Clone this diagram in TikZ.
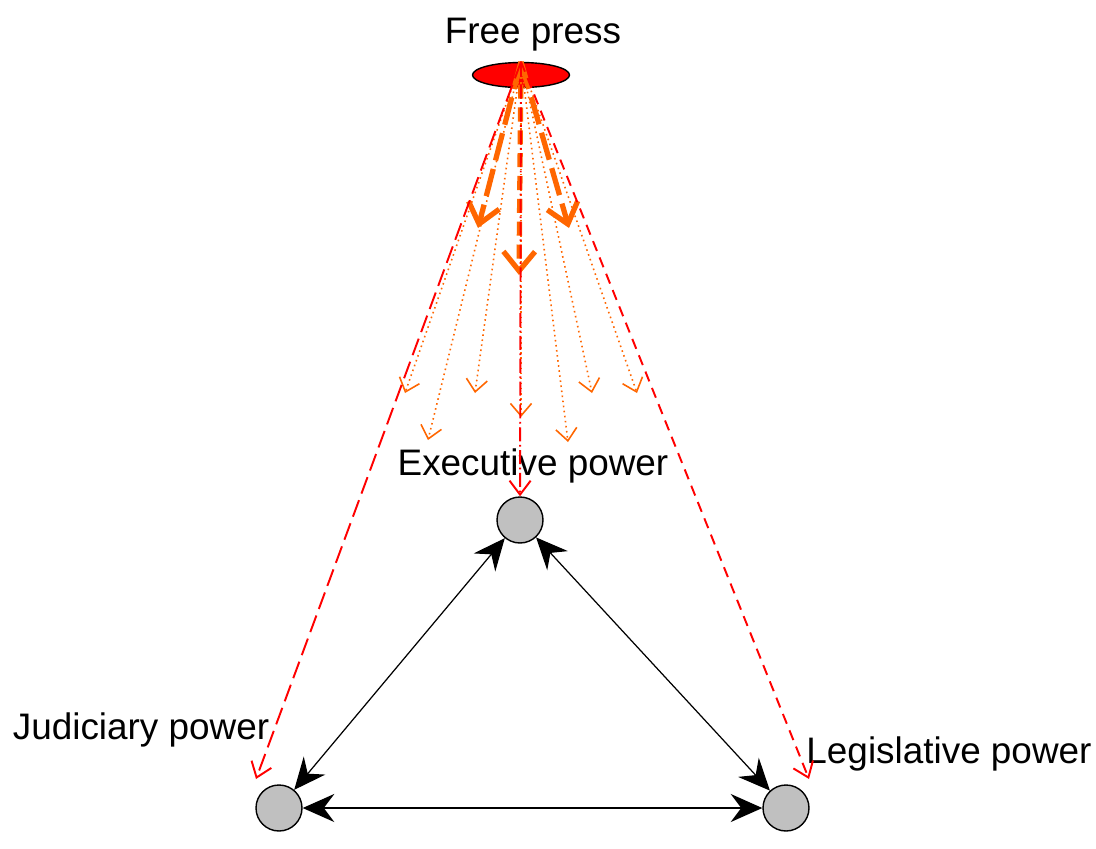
\documentclass[tikz,border=0pt]{standalone}
\usepackage{fontspec}
\setmainfont{Liberation Sans}
\usetikzlibrary{arrows.meta,shapes.geometric}

\definecolor{pressorange}{RGB}{255,102,0}
\tikzstyle{power} = [circle, draw, fill={rgb,255:red,192;green,192;blue,192}, minimum size=0.92cm, inner sep=0pt, line width=0.8pt]
\tikzstyle{press} = [ellipse, draw, fill=red, minimum width=1.94cm, minimum height=0.5cm, inner sep=0pt, line width=0.8pt]
\tikzstyle{lab} = [font=\fontsize{21}{25}\selectfont, inner sep=0pt]
\tikzstyle{check} = [draw=black, line width=0.7pt, {Stealth[length=18pt,width=16pt,inset=6pt]}-{Stealth[length=18pt,width=16pt,inset=6pt]}]
\tikzstyle{reach} = [draw=red, line width=1.1pt, -{Straight Barb[length=8pt,width=12pt,line width=1.1pt]}]
\tikzstyle{spread} = [draw=pressorange, line width=0.9pt, dotted, -{Straight Barb[length=7pt,width=12pt,line width=0.9pt]}]
\tikzstyle{push} = [draw=pressorange, line width=3pt, dashed, -{Straight Barb[length=11pt,width=18pt,line width=3pt]}]

\begin{document}
\begin{tikzpicture}[x=0.02cm, y=-0.02cm]
\useasboundingbox (0,0) rectangle (1096,849);
\node [press] (fp) at (521,75) {};
\node [power] (ex) at (520,520) {};
\node [power] (ju) at (279,808) {};
\node [power] (le) at (786,808) {};
\node [lab] (fp_lab) at (533,35) {Free press};
\node [lab] (ex_lab) at (533,466) {Executive power};
\node [lab] (ju_lab) at (141,730) {Judiciary power};
\node [lab] (le_lab) at (949,754) {Legislative power};

\coordinate (ju_end) at (256,779);
\coordinate (le_end) at (809,779);
% thin dotted spread
\foreach \x/\y in {405/393, 428/440, 475/393, 521/417, 568/442, 592/393, 637/393}
  \draw [spread] (fp.north) -- (\x,\y);
% thick pushes
\draw [push, dash pattern=on 16pt off 5pt] (fp.north) -- (478,228);
\draw [push, dash pattern=on 8pt off 5pt] (fp.north) -- (519,275);
\draw [push, dash pattern=on 16pt off 5pt] (fp.north) -- (569,228);
% red reach of the press
\draw [reach, dash pattern=on 10pt off 4pt] (fp.north) -- (ju_end);
\draw [reach, dash pattern=on 6pt off 4pt] (fp.north) -- (le_end);
\draw [reach, dash pattern=on 8pt off 2pt on 1pt off 2pt] (fp.north) -- (ex);

% checks and balances
\draw [check] (ex) -- (ju);
\draw [check] (ex) -- (le);
\draw [check] (ju) -- (le);
\end{tikzpicture}
\end{document}
